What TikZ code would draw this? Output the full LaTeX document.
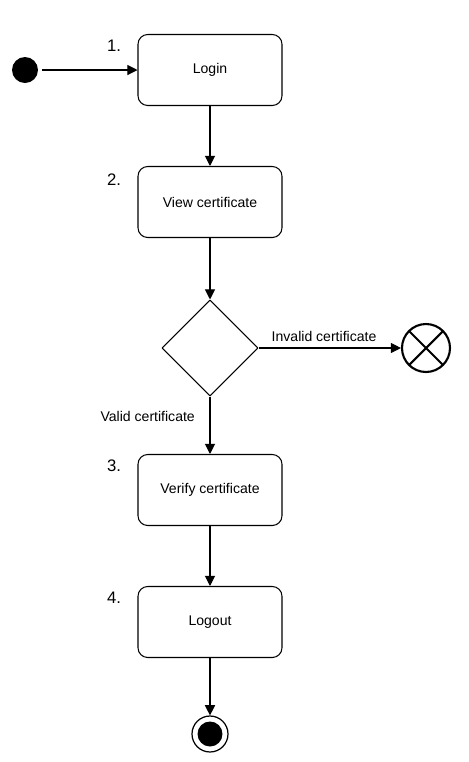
\documentclass[tikz,border=0pt]{standalone}
\usepackage{fontspec}
\setmainfont{Liberation Sans}
\usetikzlibrary{arrows.meta,shapes.geometric,positioning}

\begin{document}
\begin{tikzpicture}[x=0.02cm, y=-0.02cm, >={Triangle[length=5.8pt,width=5.8pt]}, line join=round,
	every node/.style={font=\fontsize{8}{9.5}\selectfont},
	state/.style={draw, line width=0.6pt, rounded corners=5.5pt, minimum width=2.88cm, minimum height=1.42cm},
	numlabel/.style={font=\fontsize{9.5}{11}\selectfont},
	flow/.style={->, line width=0.6pt}]
	
	\useasboundingbox (0,0) rectangle (469,762);
	
	% start and the four steps
	\node[circle, fill, minimum size=0.52cm, inner sep=0] (start) at (25,70) {};
	\node[state] (login) at (210,70) {Login};
	\node[state] (view) at (210,202) {View certificate};
	\node[state] (verify) at (210,490) {Verify certificate};
	\node[state] (logout) at (210,622) {Logout};
	
	% step numbers
	\node[numlabel] (n1) at (114,46) {1.};
	\node[numlabel] (n2) at (114,180) {2.};
	\node[numlabel] (n3) at (114,466) {3.};
	\node[numlabel] (n4) at (114,598) {4.};
	
	% decision and the two ends
	\node[diamond, draw, line width=0.6pt, aspect=1, minimum size=1.92cm, inner sep=0] (check) at (210,348) {};
	\node[circle, draw, line width=1.2pt, minimum size=0.96cm, inner sep=0,
		path picture={\draw[line width=1.2pt] (path picture bounding box.north west) -- (path picture bounding box.south east)
			(path picture bounding box.north east) -- (path picture bounding box.south west);}] (abort) at (426,348) {};
	\node[circle, draw, line width=0.7pt, minimum size=0.72cm, inner sep=0,
		path picture={\fill (path picture bounding box.center) circle (0.25cm);}] (stop) at (210,734) {};
	
	% connectors
	\draw[flow, shorten <=2.2pt] (start) -- (login);
	\draw[flow] (login) -- (view);
	\draw[flow] (view) -- (check);
	\draw[flow] (check.east) -- (abort.west) node[pos=0.46, above] {Invalid certificate};
	\draw[flow] (check.south) -- (verify.north) node[pos=0.34, left=5pt] {Valid certificate};
	\draw[flow] (verify) -- (logout);
	\draw[flow] (logout) -- (stop);
	
\end{tikzpicture}
\end{document}
